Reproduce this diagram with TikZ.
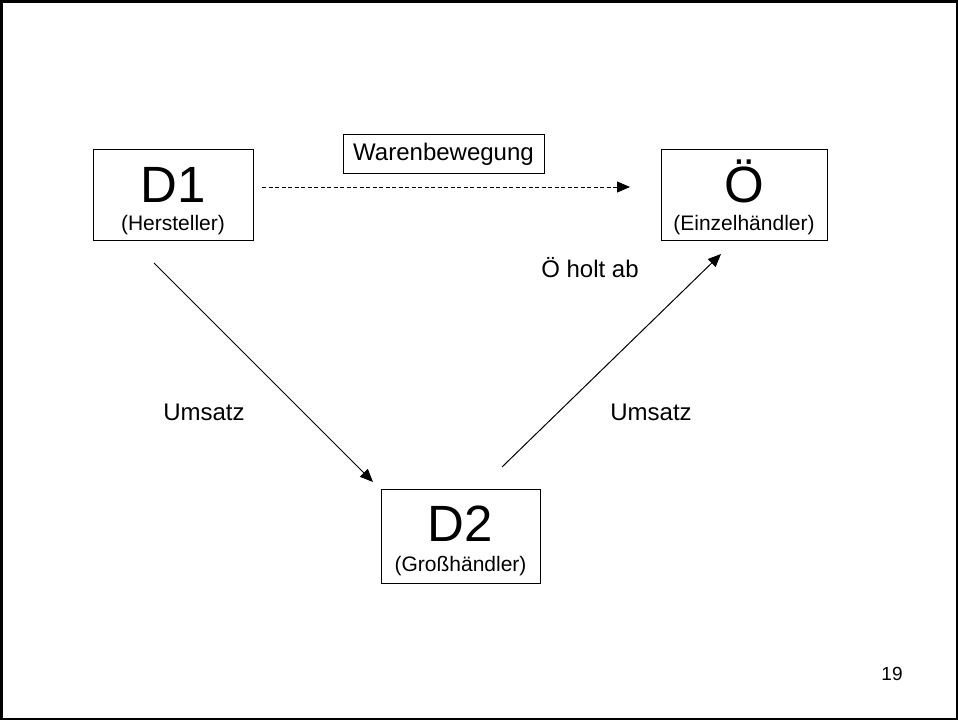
\documentclass[tikz,border=0pt]{standalone}
\usepackage{fontspec}
\setmainfont{Liberation Sans}
\usetikzlibrary{arrows.meta}
\tikzset{
  box/.style={draw=black, line width=1pt, minimum width=#1, inner sep=0pt},
  big/.style={anchor=base, inner sep=0pt, font=\fontsize{51}{51}\selectfont},
  small/.style={anchor=base, inner sep=0pt, font=\fontsize{21}{21}\selectfont},
  lbl/.style={anchor=base, inner sep=0pt, font=\fontsize{24}{24}\selectfont},
  conn/.style={line width=1pt, -{Triangle[length=13pt,width=11pt]}},
}
\begin{document}
\begin{tikzpicture}[x=1pt,y=-1pt]
\useasboundingbox (0,0) rectangle (958,720);
\draw[line width=2.5pt] (1.25,1.25) rectangle (956.75,718.75);
% boxes
\node[box=160pt, minimum height=91pt] (d1) at (173,194.5) {};
\node[box=166pt, minimum height=91pt] (oe) at (744,194.5) {};
\node[box=159pt, minimum height=94pt] (d2) at (460.5,536) {};
\node[box=201pt, minimum height=39pt] (wb) at (443.5,153.5) {};
% texts
\node[big] (d1t) at (173,202) {D1};
\node[small] (d1s) at (173,230) {(Hersteller)};
\node[big] (oet) at (744,202) {Ö};
\node[small] (oes) at (744,230) {(Einzelhändler)};
\node[big] (d2t) at (460.5,541) {D2};
\node[small] (d2s) at (460.5,571) {(Großhändler)};
\node[lbl] (wbt) at (443.5,160) {Warenbewegung};
\node[lbl] (u1) at (204,420) {Umsatz};
\node[lbl] (u2) at (651,420) {Umsatz};
\node[lbl] (hol) at (590,277) {Ö holt ab};
\node[anchor=base, inner sep=0pt, font=\fontsize{19}{19}\selectfont] (pg) at (892,680) {19};
% connector ends
\coordinate (a1s) at (262,187);
\coordinate (a1e) at (630,187);
\coordinate (a2s) at (154,263);
\coordinate (a2e) at (373,482);
\coordinate (a3s) at (502,467);
\coordinate (a3e) at (721,254);
\draw[conn, dash pattern=on 4pt off 2.5pt] (a1s) -- (a1e);
\draw[conn] (a2s) -- (a2e);
\draw[conn] (a3s) -- (a3e);
\end{tikzpicture}
\end{document}
